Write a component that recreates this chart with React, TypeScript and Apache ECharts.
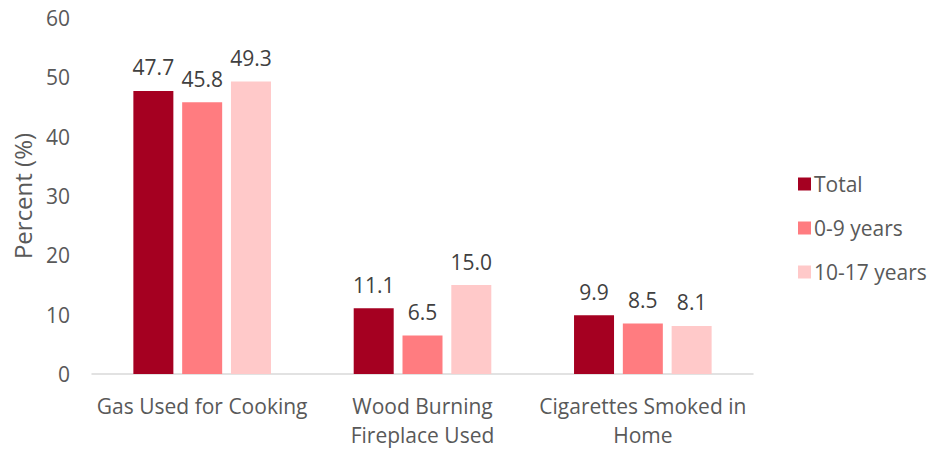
import React, { useEffect, useRef } from "react";
import * as echarts from "echarts";

const categories = ["Gas Used for Cooking", "Wood Burning\nFireplace Used", "Cigarettes Smoked in\nHome"];
const seriesNames = ["Total", "0-9 years", "10-17 years"];
const totalValues = [47.7, 11.1, 9.9];
const age0to9Values = [45.8, 6.5, 8.5];
const age10to17Values = [49.3, 15.0, 8.1];
const colors = ["#A50021", "#FF7C80", "#FFC9C9"];
const FONT = "'Open Sans', 'Noto Sans', sans-serif";

export default function App() {
  const ref = useRef<HTMLDivElement>(null);
  useEffect(() => {
    if (!ref.current) return;
    const chart = echarts.init(ref.current, null, { renderer: "svg" });
    const data = [totalValues, age0to9Values, age10to17Values];
    chart.setOption({
      animation: false,
      textStyle: { fontFamily: FONT },
      grid: { left: 92, right: 191, top: 18, bottom: 73, containLabel: false },
      legend: {
        orient: "vertical",
        left: 793,
        top: 164,
        itemWidth: 13,
        itemHeight: 13,
        itemGap: 14,
        icon: "rect",
        textStyle: { fontSize: 21, lineHeight: 30, color: "#595959", fontFamily: FONT, padding: [0, 0, 0, -2] },
        data: seriesNames,
      },
      xAxis: {
        type: "category",
        data: categories,
        axisLine: { lineStyle: { color: "#D9D9D9", width: 1.5 } },
        axisTick: { show: false },
        axisLabel: { interval: 0, fontSize: 21, color: "#595959", margin: 17, lineHeight: 29, fontFamily: FONT },
      },
      yAxis: {
        type: "value",
        min: 0,
        max: 60,
        interval: 10,
        name: "Percent (%)",
        nameLocation: "middle",
        nameGap: 58,
        nameTextStyle: { fontSize: 24, color: "#595959", fontFamily: FONT },
        axisLine: { show: false },
        axisTick: { show: false },
        splitLine: { show: false },
        axisLabel: { fontSize: 21, color: "#595959", margin: 22, fontFamily: FONT },
      },
      series: seriesNames.map((name, i) => ({
        name,
        type: "bar",
        data: data[i],
        barWidth: 40,
        barGap: "22%",
        itemStyle: { color: colors[i] },
        label: {
          show: true,
          position: "top",
          distance: 13,
          fontSize: 21,
          color: "#404040",
          fontFamily: FONT,
          formatter: (p: any) => Number(p.value).toFixed(1),
        },
      })),
    });
    return () => chart.dispose();
  }, []);
  return <div ref={ref} style={{ width: 944, height: 449, position: "absolute", left: 0, top: 0 }} />;
}
